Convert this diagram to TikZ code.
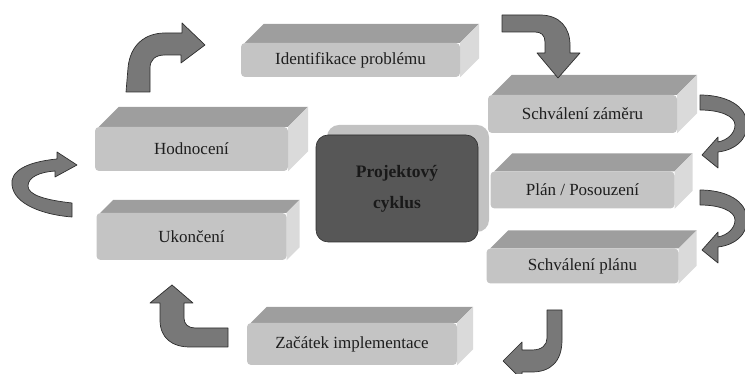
\documentclass[tikz,border=0pt]{standalone}
\usepackage{fontspec}
\setmainfont{Liberation Serif}
\usetikzlibrary{positioning,shadows,backgrounds}
\definecolor{frontgray}{HTML}{C4C4C4}
\definecolor{topgray}{HTML}{9E9E9E}
\definecolor{sidegray}{HTML}{DADADA}
\definecolor{textgray}{HTML}{1E1E1E}
\definecolor{corefill}{HTML}{575757}
\definecolor{coreshade}{HTML}{C2C2C2}
\definecolor{arrowgray}{HTML}{787878}
\definecolor{arrowline}{HTML}{2E2E2E}
\tikzstyle{slab}=[rectangle, rounded corners=4pt, fill=frontgray, inner sep=0pt, text=textgray, font=\fontsize{17}{20}\selectfont]
\tikzstyle{topface}=[fill=topgray]
\tikzstyle{sideface}=[fill=sidegray]
\tikzstyle{bentarrow}=[fill=arrowgray, draw=arrowline, line width=0.7pt, line join=round]

\begin{document}
\begin{tikzpicture}[x=1pt, y=1pt, node distance=76pt]
\useasboundingbox (0,0) rectangle (745,374);

\node (ident) [slab, minimum width=219pt, minimum height=34pt] at (350.5,314) {Identifikace problému};
\node (zamer) [slab, minimum width=189pt, minimum height=38pt] at (582.5,260) {Schválení záměru};
\node (plan) [slab, minimum width=184pt, minimum height=37pt, below of=zamer] {Plán / Posouzení};
\node (schvalplanu) [slab, minimum width=192pt, minimum height=35pt, below of=plan] {Schválení plánu};
\node (zacatek) [slab, minimum width=210pt, minimum height=42pt] at (352,30) {Začátek implementace};
\node (hodnoceni) [slab, minimum width=193pt, minimum height=44pt] at (191.5,225) {Hodnocení};
\node (ukonceni) [slab, minimum width=190pt, minimum height=47pt, below of=hodnoceni, node distance=87.5pt] {Ukončení};

\node (cyklus) [rectangle, rounded corners=12pt, fill=corefill, draw=arrowline, line width=0.6pt,
  minimum width=162pt, minimum height=107pt, align=center, text=black!90,
  font=\bfseries\fontsize{17.5}{31}\selectfont,
  drop shadow={fill=coreshade, opacity=1, shadow xshift=11pt, shadow yshift=10pt}]
  at (397,185.5) {Projektový\\cyklus};

% top and side faces of the slabs
\begin{scope}[on background layer]
\foreach \n/\d in {ident/19, zamer/20, plan/18, schvalplanu/18, zacatek/16, hodnoceni/20, ukonceni/13} {
  \fill[topface] ([xshift=4pt]\n.north west) -- ++(\d,\d) -- ([shift={(\d,\d)}]\n.north east) -- (\n.north east) -- cycle;
  \fill[sideface] (\n.north east) -- ++(\d,\d) -- ([shift={(\d,\d)}]\n.south east) -- (\n.south east) -- cycle;
}
\end{scope}

% bent arrows round the cycle
\draw[bentarrow] (126,282) -- (128,306) .. controls (130,329) and (145,341) .. (165,341) -- (182,341) -- (182,351) -- (205,329) -- (181,311) -- (181,319) -- (165,319) .. controls (155,319) and (150,314) .. (150,306) -- (150,282) -- cycle;
\draw[bentarrow] (502,359) -- (540,359) .. controls (560,359) and (570,346) .. (570,329) -- (570,321) -- (580,321) -- (558,296) -- (537,321) -- (545,321) -- (545,332) .. controls (545,339) and (541,342) .. (535,342) -- (502,342) -- cycle;
\foreach \dy in {0,-95} {
  \draw[bentarrow, yshift=\dy] (700,279) .. controls (725,279) and (747,269) .. (747,249) .. controls (747,234) and (735,224) .. (718,222) -- (718,206) -- (702,219) -- (718,237) -- (718,232) .. controls (728,234) and (735,241) .. (735,249) .. controls (735,258) and (720,264) .. (700,264) -- cycle;
}
\draw[bentarrow] (547,64) -- (562,64) -- (562,34) .. controls (562,12) and (550,2) .. (532,2) -- (522,2) -- (522,-6) -- (503,13) -- (522,32) -- (522,24) -- (532,24) .. controls (542,24) and (547,29) .. (547,36) -- cycle;
\draw[bentarrow] (228,46) -- (195,46) .. controls (188,46) and (184,50) .. (184,56) -- (184,71) -- (193,71) -- (172,89) -- (150,71) -- (160,71) -- (160,54) .. controls (160,36) and (172,27) .. (190,27) -- (228,27) -- cycle;
\draw[bentarrow] (57,215) .. controls (25,212) and (10,202) .. (12,189) .. controls (14,169) and (45,159) .. (72,157) -- (72,171) .. controls (45,174) and (28,179) .. (28,188) .. controls (28,197) and (40,202) .. (55,203) -- (55,197) -- (77,209) -- (57,222) -- cycle;

\end{tikzpicture}
\end{document}
